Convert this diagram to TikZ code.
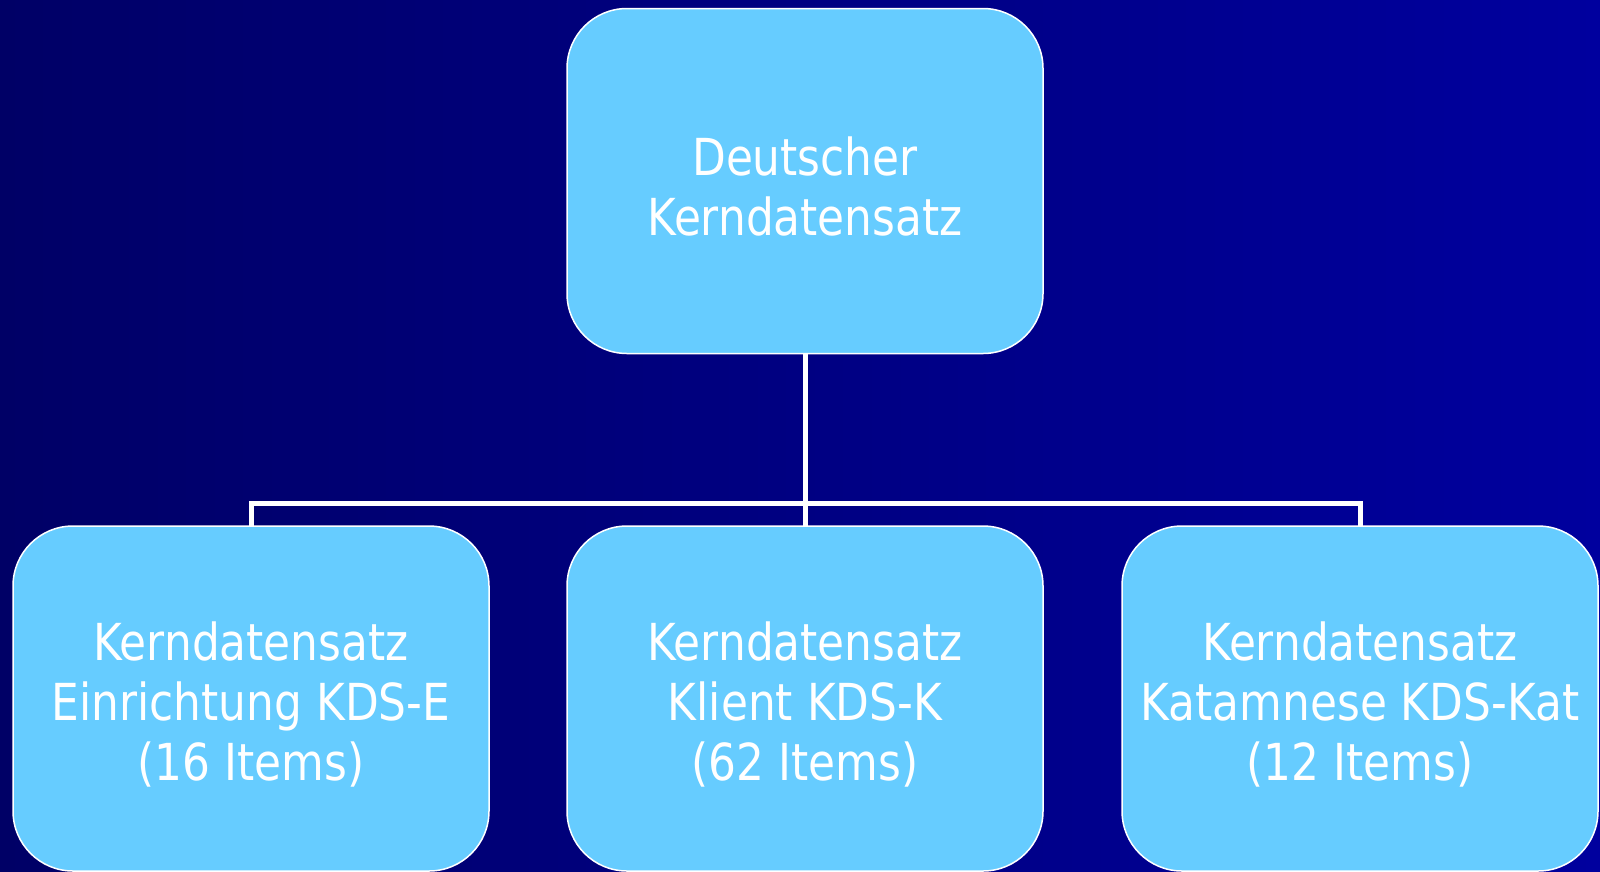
\documentclass[tikz,border=0pt]{standalone}
\usepackage{fontspec}
\usepackage{tikz}
\newfontfamily\boxfont{DejaVu Sans}[FakeStretch=0.86]
\definecolor{bgLeft}{HTML}{000066}
\definecolor{bgRight}{HTML}{00009E}
\definecolor{boxBlue}{HTML}{66CCFF}
\newcommand{\kdsStrut}{\rule{0pt}{50pt}}
\tikzset{
  kdsNode/.style={%
    rectangle, rounded corners=60pt, draw=white, line width=1.5pt,
    fill=boxBlue, text=white, align=center, inner sep=0pt,
    minimum width=476pt, minimum height=345pt,
    font={\boxfont\fontsize{51}{60}\selectfont},
  },
  linkLine/.style={%
    draw=white, line width=5pt, line join=miter,
  }
}

\begin{document}
\begin{tikzpicture}[x=1pt,y=-1pt]
          \shade[left color=bgLeft, right color=bgRight] (0,0) rectangle (1600,871);
          \useasboundingbox (0,0) rectangle (1600,871);

          \coordinate (bus) at (805,503);

          \draw[linkLine]
          (805,354) -- (bus)
          (251,527) |- (bus) -| (1360,527)
          (805,527) -- (bus)
          ;

          \node[kdsNode] (kds) at (805,181) {\kdsStrut Deutscher\\Kerndatensatz};
          \node[kdsNode] (kdsE) at (251,698.5) {\kdsStrut Kerndatensatz\\Einrichtung KDS-E\\(16 Items)};
          \node[kdsNode] (kdsK) at (805,698.5) {\kdsStrut Kerndatensatz\\Klient KDS-K\\(62 Items)};
          \node[kdsNode] (kdsKat) at (1360,698.5) {\kdsStrut Kerndatensatz\\Katamnese KDS-Kat\\(12 Items)};
        \end{tikzpicture}
\end{document}
